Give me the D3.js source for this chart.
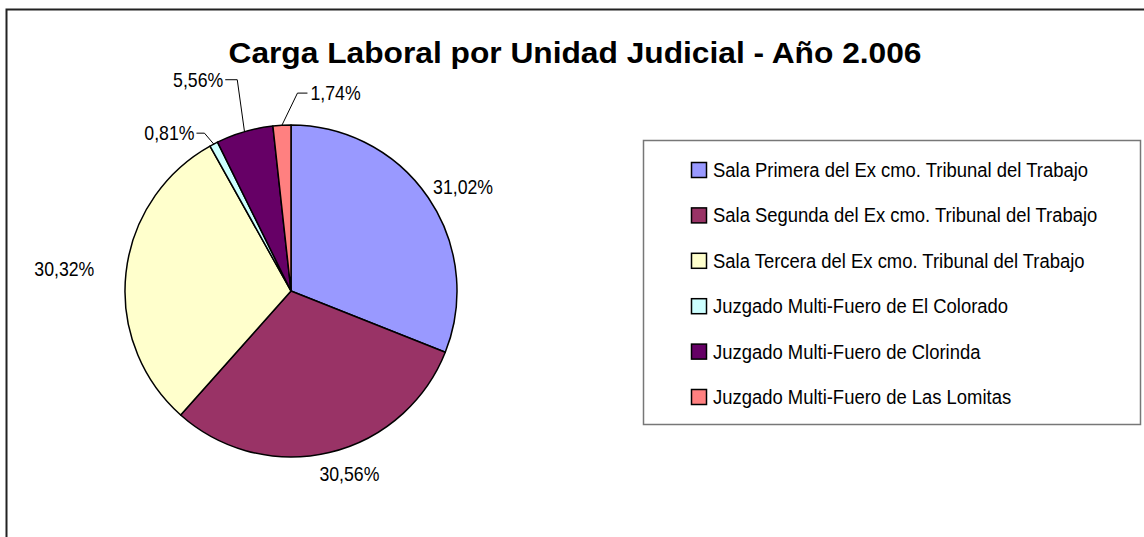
<!DOCTYPE html>
<html>
<head>
<meta charset="utf-8">
<script src="https://cdn.jsdelivr.net/npm/d3@7"></script>
<style>
  body { margin: 0; background: #fff; }
  svg { display: block; }
  text { font-family: "Liberation Sans Narrow", "Liberation Sans", Arial, sans-serif; fill: #000; }
  text.title { font-family: "Liberation Sans", Arial, sans-serif; }
</style>
</head>
<body>
<svg id="chart" width="1144" height="537"></svg>
<script>
// Data
const title = 'Carga Laboral por Unidad Judicial - Año 2.006';
const categories = [
    'Sala Primera del Ex cmo. Tribunal del Trabajo',
    'Sala Segunda del Ex cmo. Tribunal del Trabajo',
    'Sala Tercera del Ex cmo. Tribunal del Trabajo',
    'Juzgado Multi-Fuero de El Colorado',
    'Juzgado Multi-Fuero de Clorinda',
    'Juzgado Multi-Fuero de Las Lomitas'
];
const values = [31.02, 30.56, 30.32, 0.81, 5.56, 1.74];
const colors = ['#9999FF', '#993366', '#FFFFCC', '#CCFFFF', '#660066', '#FF8080'];

// label layout (Excel "best fit" placement, tuned by eye)
// gap = distance from rim, leader = elbow radius / angle shift (deg) for small slices
const labelLayout = [
    {gap: 12, dx: 0},
    {gap: 14, dx: 10},
    {gap: 32, dx: 0},
    {leader: true, r: 180, shift: -1, len: 8},
    {leader: true, r: 218, shift: 2, len: 12},
    {leader: true, r: 198, shift: 5, len: -10}
];

const svg = d3.select('#chart');
const cx = 291, cy = 291, radius = 166;

// outer chart frame (runs off the page on the right and bottom)
svg.append('rect')
    .attr('x', 6.5).attr('y', 9.5)
    .attr('width', 1200).attr('height', 600)
    .attr('fill', 'none')
    .attr('stroke', '#222')
    .attr('stroke-width', 2);

// squeeze text horizontally so it fits the width measured on the picture
const fitWidth = (sel, target) => {
    const w = sel.node().getComputedTextLength();
    return target / w;
};

svg.append('text')
    .classed('title', true)
    .attr('x', 575).attr('y', 63)
    .attr('text-anchor', 'middle')
    .attr('font-size', 29)
    .attr('font-weight', 'bold')
    .attr('textLength', 693)
    .attr('lengthAdjust', 'spacingAndGlyphs')
    .text(title);

// pie
const pie = d3.pie().sort(null).value((d) => d);
const arcs = pie(values);
const arc = d3.arc().innerRadius(0).outerRadius(radius);

const g = svg.append('g').attr('transform', 'translate(' + cx + ',' + cy + ')');

g.selectAll('path.slice')
    .data(arcs)
    .enter().append('path')
    .classed('slice', true)
    .attr('d', arc)
    .attr('fill', (d, i) => colors[i])
    .attr('stroke', '#000')
    .attr('stroke-width', 1.5)
    .attr('stroke-linejoin', 'round');

const fmt = (v) => v.toFixed(2).replace('.', ',') + '%';

// percentage labels
const labelSize = 21;
let labelScale = null;
arcs.forEach((d, i) => {
    const mid = (d.startAngle + d.endAngle) / 2;
    const lay = labelLayout[i];
    const t = g.append('text')
        .attr('font-size', labelSize)
        .text(fmt(values[i]));
    if (labelScale === null) {
        labelScale = fitWidth(t, 60);
    }
    const w = t.node().getComputedTextLength() * labelScale;
    t.attr('textLength', w).attr('lengthAdjust', 'spacingAndGlyphs');
    const halfH = 8;
    if (!lay.leader) {
        const rr = radius + lay.gap;
        const px = rr * Math.sin(mid) + (w / 2) * Math.sin(mid) + lay.dx;
        const py = -rr * Math.cos(mid) - halfH * Math.cos(mid);
        t.attr('x', px).attr('y', py + 7).attr('text-anchor', 'middle');
    } else {
        const edge = [radius * Math.sin(mid), -radius * Math.cos(mid)];
        const a2 = mid + lay.shift * Math.PI / 180;
        const elbow = [lay.r * Math.sin(a2), -lay.r * Math.cos(a2)];
        const end = [elbow[0] - lay.len, elbow[1]];
        g.append('polyline')
            .attr('points', [edge, elbow, end].map((p) => p.join(',')).join(' '))
            .attr('fill', 'none')
            .attr('stroke', '#000')
            .attr('stroke-width', 1);
        const right = lay.len > 0;
        t.attr('x', end[0] + (right ? -2 : 3))
            .attr('y', end[1] + 7)
            .attr('text-anchor', right ? 'end' : 'start');
    }
});

// legend
const legend = svg.append('g').attr('transform', 'translate(643,140)');
legend.append('rect')
    .attr('x', 0.5).attr('y', 0.5)
    .attr('width', 497).attr('height', 284)
    .attr('fill', '#fff')
    .attr('stroke', '#777')
    .attr('stroke-width', 1.5);

const rowY = d3.scalePoint().domain(d3.range(categories.length)).range([30, 257]);
const legendSize = 20;
let legendScale = null;
categories.forEach((name, i) => {
    const y = rowY(i);
    legend.append('rect')
        .attr('x', 48.5).attr('y', y - 7.5)
        .attr('width', 15).attr('height', 15)
        .attr('fill', colors[i])
        .attr('stroke', '#000')
        .attr('stroke-width', 1.5);
    const t = legend.append('text')
        .attr('x', 70).attr('y', y + 7)
        .attr('font-size', legendSize)
        .text(name);
    if (legendScale === null) {
        legendScale = fitWidth(t, 375);
    }
    t.attr('textLength', t.node().getComputedTextLength() * legendScale)
        .attr('lengthAdjust', 'spacingAndGlyphs');
});
</script>
</body>
</html>
